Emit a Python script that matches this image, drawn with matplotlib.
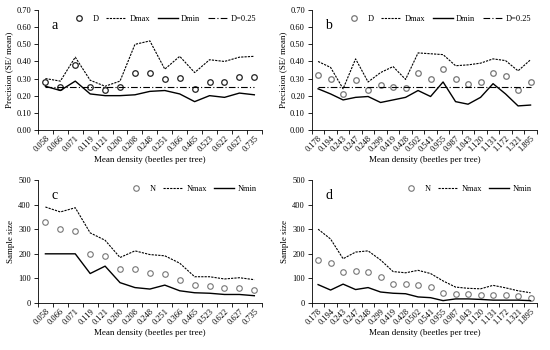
import numpy as np
import matplotlib
matplotlib.use('Agg')
from matplotlib import pyplot as plt

plt.rcParams['font.family'] = ['Liberation Serif', 'DejaVu Serif']

dens_a = ['0.058', '0.066', '0.071', '0.119', '0.121', '0.200', '0.208', '0.248',
          '0.251', '0.366', '0.465', '0.523', '0.622', '0.627', '0.735']
dens_b = ['0.178', '0.194', '0.243', '0.247', '0.248', '0.299', '0.419', '0.428',
          '0.502', '0.541', '0.955', '0.987', '1.043', '1.120', '1.131', '1.172',
          '1.321', '1.895']

# precision panels
d_a = [0.28, 0.25, 0.38, 0.25, 0.235, 0.25, 0.33, 0.33, 0.30, 0.305, 0.24, 0.28, 0.28, 0.31, 0.31]
dmax_a = [0.30, 0.285, 0.425, 0.29, 0.255, 0.285, 0.50, 0.52, 0.355, 0.43, 0.335, 0.41, 0.40, 0.425, 0.43]
dmin_a = [0.255, 0.23, 0.285, 0.21, 0.20, 0.20, 0.205, 0.225, 0.23, 0.21, 0.165, 0.20, 0.19, 0.215, 0.205]

d_b = [0.32, 0.295, 0.21, 0.29, 0.235, 0.26, 0.25, 0.245, 0.33, 0.30, 0.355, 0.295,
       0.27, 0.28, 0.335, 0.315, 0.235, 0.28]
dmax_b = [0.40, 0.365, 0.24, 0.415, 0.28, 0.335, 0.37, 0.295, 0.45, 0.445, 0.44, 0.375,
          0.38, 0.39, 0.415, 0.405, 0.345, 0.41]
dmin_b = [0.24, 0.21, 0.175, 0.19, 0.195, 0.16, 0.175, 0.19, 0.23, 0.195, 0.28, 0.165,
          0.15, 0.19, 0.27, 0.21, 0.14, 0.145]

# sample size panels
n_c = [328, 300, 293, 198, 193, 137, 140, 123, 120, 92, 75, 70, 62, 63, 55]
nmax_c = [390, 370, 387, 285, 255, 185, 212, 197, 192, 162, 107, 107, 98, 103, 95]
nmin_c = [200, 200, 200, 120, 150, 83, 63, 57, 73, 50, 42, 40, 35, 35, 30]

n_d = [175, 162, 125, 130, 125, 107, 78, 77, 72, 67, 40, 37, 35, 33, 33, 32, 28, 20]
nmax_d = [300, 260, 180, 207, 212, 175, 128, 123, 133, 120, 90, 65, 60, 58, 72, 62, 50, 42]
nmin_d = [75, 53, 77, 55, 63, 45, 40, 38, 25, 22, 10, 17, 17, 15, 12, 12, 12, 10]

fig = plt.figure(figsize=(5.5, 3.5), dpi=100)


def style_axes(ax, labels, ymax, ystep, yfmt, ylabel):
    n = len(labels)
    x = np.arange(n)
    ax.set_xlim(-0.5, n - 0.5)
    ax.set_ylim(0, ymax)
    ax.set_xticks(x)
    ax.set_xticklabels(labels, rotation=45, ha='right', rotation_mode='anchor', fontsize=6)
    ax.set_xticks(np.arange(n + 1) - 0.5, minor=True)
    ax.tick_params(axis='x', which='major', length=0, pad=3)
    ax.tick_params(axis='x', which='minor', length=3, width=0.6, direction='out')
    yt = np.arange(0, ymax + ystep / 2, ystep)
    ax.set_yticks(yt)
    ax.set_yticklabels([yfmt % v for v in yt], fontsize=6)
    ax.tick_params(axis='y', length=3, width=0.6, direction='out', pad=2)
    for s in ['top', 'right']:
        ax.spines[s].set_visible(False)
    for s in ['left', 'bottom']:
        ax.spines[s].set_linewidth(0.6)
    ax.set_xlabel('Mean density (beetles per tree)', fontsize=6.5, labelpad=2)
    ax.set_ylabel(ylabel, fontsize=6.5, labelpad=2)
    return x


def add_legend(ax, ncol):
    ax.legend(loc='upper right', ncol=ncol, frameon=False, fontsize=6,
              handlelength=2.4, handletextpad=0.4, columnspacing=0.9,
              borderaxespad=0.2, bbox_to_anchor=(1.0, 1.0))


def precision_panel(rect, labels, d, dmax, dmin, tag, mcol):
    ax = fig.add_axes(rect)
    x = style_axes(ax, labels, 0.70, 0.10, '%.2f', 'Precision (SE/ mean)')
    ax.plot(x, d, 'o', ms=4, mfc='none', mec=mcol, mew=0.9, ls='none', label='D')
    ax.plot(x, dmax, color='black', lw=0.8, ls=(0, (2, 1)), label='Dmax')
    ax.plot(x, dmin, color='black', lw=1.0, ls='-', label='Dmin')
    ax.plot(x, [0.25] * len(x), color='black', lw=0.8, ls=(0, (6, 2, 1, 2)), label='D=0.25')
    ax.text(0.06, 0.93, tag, transform=ax.transAxes, fontsize=10, va='top')
    add_legend(ax, 4)
    return ax


def size_panel(rect, labels, n, nmax, nmin, tag, mcol):
    ax = fig.add_axes(rect)
    x = style_axes(ax, labels, 500, 100, '%d', 'Sample size')
    ax.plot(x, n, 'o', ms=4, mfc='none', mec=mcol, mew=0.8, ls='none', label='N')
    ax.plot(x, nmax, color='black', lw=0.8, ls=(0, (2, 1)), label='Nmax')
    ax.plot(x, nmin, color='black', lw=1.0, ls='-', label='Nmin')
    ax.text(0.06, 0.93, tag, transform=ax.transAxes, fontsize=10, va='top')
    add_legend(ax, 3)
    return ax


precision_panel([0.069, 0.629, 0.407, 0.342], dens_a, d_a, dmax_a, dmin_a, 'a', '#222222')
precision_panel([0.567, 0.629, 0.409, 0.342], dens_b, d_b, dmax_b, dmin_b, 'b', '#777777')
size_panel([0.069, 0.134, 0.407, 0.352], dens_a, n_c, nmax_c, nmin_c, 'c', '#777777')
size_panel([0.567, 0.134, 0.409, 0.352], dens_b, n_d, nmax_d, nmin_d, 'd', '#777777')

fig.savefig('out.png', dpi=100)
